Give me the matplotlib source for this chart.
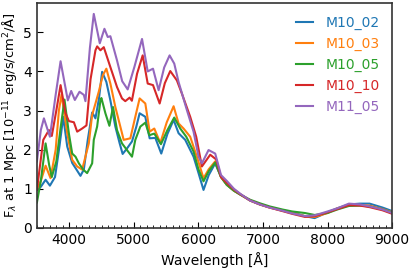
import matplotlib
matplotlib.use("Agg")
import matplotlib.pyplot as plt
from matplotlib.ticker import MultipleLocator

# wavelength [A] / flux [1e-11 erg/s/cm^2/A]
tail_wl = [6350, 6440, 6550, 6650, 6800, 6950, 7100, 7300, 7450, 7650, 7800, 8000, 8150, 8330, 8500, 8650, 8850, 9000]

m10_02_wl = [3500, 3560, 3634, 3701, 3780, 3850, 3907, 3969, 4046, 4097, 4174, 4226, 4287, 4355, 4380, 4406,
             4460, 4509, 4575, 4637, 4714, 4781, 4827, 4894, 4972, 5039, 5090, 5178, 5245, 5333, 5425,
             5520, 5616, 5693, 5796, 5925, 6002, 6079, 6160, 6260] + tail_wl
m10_02_fx = [0.97, 1.05, 1.23, 1.08, 1.3, 2.1, 2.84, 2.08, 1.66, 1.53, 1.33, 1.49, 2.25, 2.95, 2.88, 2.8,
             3.3, 3.99, 3.73, 3.26, 2.59, 2.16, 1.89, 2.03, 2.21, 2.59, 2.93, 2.84, 2.29, 2.3, 1.9,
             2.4, 2.76, 2.42, 2.25, 1.82, 1.4, 0.97, 1.35, 1.65,
             1.3, 1.1, 0.95, 0.85, 0.7, 0.6, 0.53, 0.45, 0.4, 0.3, 0.25, 0.4, 0.5, 0.6, 0.62, 0.62, 0.52, 0.43]

m10_03_wl = [3500, 3560, 3634, 3711, 3790, 3840, 3881, 3969, 4046, 4123, 4200, 4303, 4354, 4406, 4457, 4520,
             4575, 4637, 4714, 4791, 4843, 4946, 5023, 5090, 5178, 5245, 5317, 5410, 5510, 5616, 5693,
             5770, 5873, 5976, 6079, 6160, 6260] + tail_wl
m10_03_fx = [1.0, 1.2, 1.59, 1.27, 2.0, 3.0, 3.41, 2.42, 1.74, 1.57, 1.49, 2.16, 2.88, 3.18, 3.48, 3.9,
             4.07, 3.69, 3.09, 2.59, 2.25, 2.29, 2.84, 3.31, 3.18, 2.46, 2.54, 2.17, 2.7, 3.11, 2.67,
             2.54, 2.33, 1.82, 1.27, 1.5, 1.7,
             1.3, 1.1, 0.95, 0.85, 0.7, 0.6, 0.52, 0.44, 0.38, 0.3, 0.28, 0.38, 0.5, 0.58, 0.58, 0.57, 0.48, 0.4]

m10_05_wl = [3500, 3560, 3634, 3690, 3730, 3800, 3870, 3927, 3994, 4046, 4097, 4149, 4216, 4277, 4355, 4380,
             4432, 4483, 4498, 4560, 4622, 4678, 4740, 4817, 4894, 4972, 5023, 5101, 5178, 5240, 5317,
             5420, 5520, 5626, 5719, 5812, 5925, 6000, 6079, 6160, 6260] + tail_wl
m10_05_fx = [0.65, 1.2, 2.16, 1.6, 1.3, 1.7, 2.6, 3.28, 2.42, 1.9, 1.82, 1.65, 1.49, 1.4, 1.65, 2.25,
             2.59, 3.26, 3.32, 2.93, 2.61, 3.09, 2.5, 2.16, 1.99, 1.82, 2.25, 2.59, 2.69, 2.37, 2.41,
             2.14, 2.5, 2.82, 2.54, 2.33, 1.95, 1.5, 1.19, 1.45, 1.67,
             1.3, 1.1, 0.95, 0.85, 0.72, 0.63, 0.55, 0.47, 0.42, 0.38, 0.33, 0.38, 0.47, 0.56, 0.57, 0.55, 0.47, 0.39]

m10_10_wl = [3500, 3598, 3686, 3730, 3800, 3866, 3943, 3995, 4072, 4123, 4200, 4267, 4330, 4406, 4432,
             4483, 4535, 4637, 4740, 4817, 4868, 4935, 4970, 5050, 5137, 5215, 5297, 5400, 5480, 5564,
             5667, 5745, 5873, 5966, 6054, 6183, 6275] + tail_wl
m10_10_fx = [0.97, 2.25, 2.5, 2.35, 3.0, 3.65, 2.93, 2.73, 2.7, 2.46, 2.54, 2.62, 3.8, 4.54, 4.64,
             4.54, 4.62, 4.11, 3.6, 3.31, 3.24, 3.33, 3.25, 3.94, 4.41, 3.69, 3.65, 3.18, 3.7, 4.01,
             3.77, 3.43, 2.84, 2.33, 1.57, 1.87, 1.75,
             1.3, 1.15, 0.98, 0.86, 0.7, 0.6, 0.52, 0.43, 0.36, 0.28, 0.3, 0.4, 0.48, 0.58, 0.57, 0.53, 0.45, 0.36]

m11_05_wl = [3500, 3560, 3608, 3701, 3790, 3866, 3978, 4030, 4087, 4159, 4226, 4251, 4320, 4380, 4473,
             4545, 4596, 4637, 4740, 4820, 4905, 5008, 5127, 5215, 5297, 5384, 5470, 5554, 5626, 5693,
             5822, 5925, 6002, 6054, 6157, 6260] + tail_wl
m11_05_fx = [1.7, 2.5, 2.8, 2.33, 3.4, 4.26, 3.26, 3.5, 3.27, 3.48, 3.4, 3.24, 4.6, 5.47, 4.72,
             5.09, 4.88, 4.9, 4.28, 3.75, 3.54, 4.11, 4.83, 4.0, 4.07, 3.52, 4.1, 4.41, 4.2, 3.73,
             3.01, 2.46, 1.82, 1.65, 1.99, 1.9,
             1.35, 1.2, 1.0, 0.87, 0.7, 0.6, 0.52, 0.44, 0.37, 0.3, 0.32, 0.42, 0.5, 0.62, 0.6, 0.55, 0.47, 0.38]

labels = ["M10_02", "M10_03", "M10_05", "M10_10", "M11_05"]
colors = ["#1f77b4", "#ff7f0e", "#2ca02c", "#d62728", "#9467bd"]

fig = plt.figure(figsize=(4.15, 2.70), dpi=100)
ax = fig.add_axes([0.089, 0.156, 0.856, 0.833])

series = [(m10_02_wl, m10_02_fx), (m10_03_wl, m10_03_fx), (m10_05_wl, m10_05_fx),
          (m10_10_wl, m10_10_fx), (m11_05_wl, m11_05_fx)]
for (wl, fx), lab, c in zip(series, labels, colors):
    ax.plot(wl, fx, color=c, lw=1.5, label=lab)

ax.set_xlim(3500, 9000)
ax.set_ylim(0, 5.75)
ax.xaxis.set_major_locator(MultipleLocator(1000))
ax.xaxis.set_minor_locator(MultipleLocator(100))
ax.yaxis.set_major_locator(MultipleLocator(1))
ax.tick_params(direction="in", which="both", labelsize=10)
ax.tick_params(which="major", length=4)
ax.tick_params(which="minor", length=2)
for s in ax.spines.values():
    s.set_color("#333333")
    s.set_linewidth(1.2)

ax.set_xlabel("Wavelength [Å]", fontsize=10)
ax.set_ylabel(r"F$_\lambda$ at 1 Mpc [10$^{-11}$ erg/s/cm$^2$/Å]", fontsize=9.4, labelpad=3)

leg = ax.legend(frameon=False, fontsize=10, handlelength=1.2, handletextpad=0.9)
for t, c in zip(leg.get_texts(), colors):
    t.set_color(c)

fig.savefig("out.png", dpi=100)
